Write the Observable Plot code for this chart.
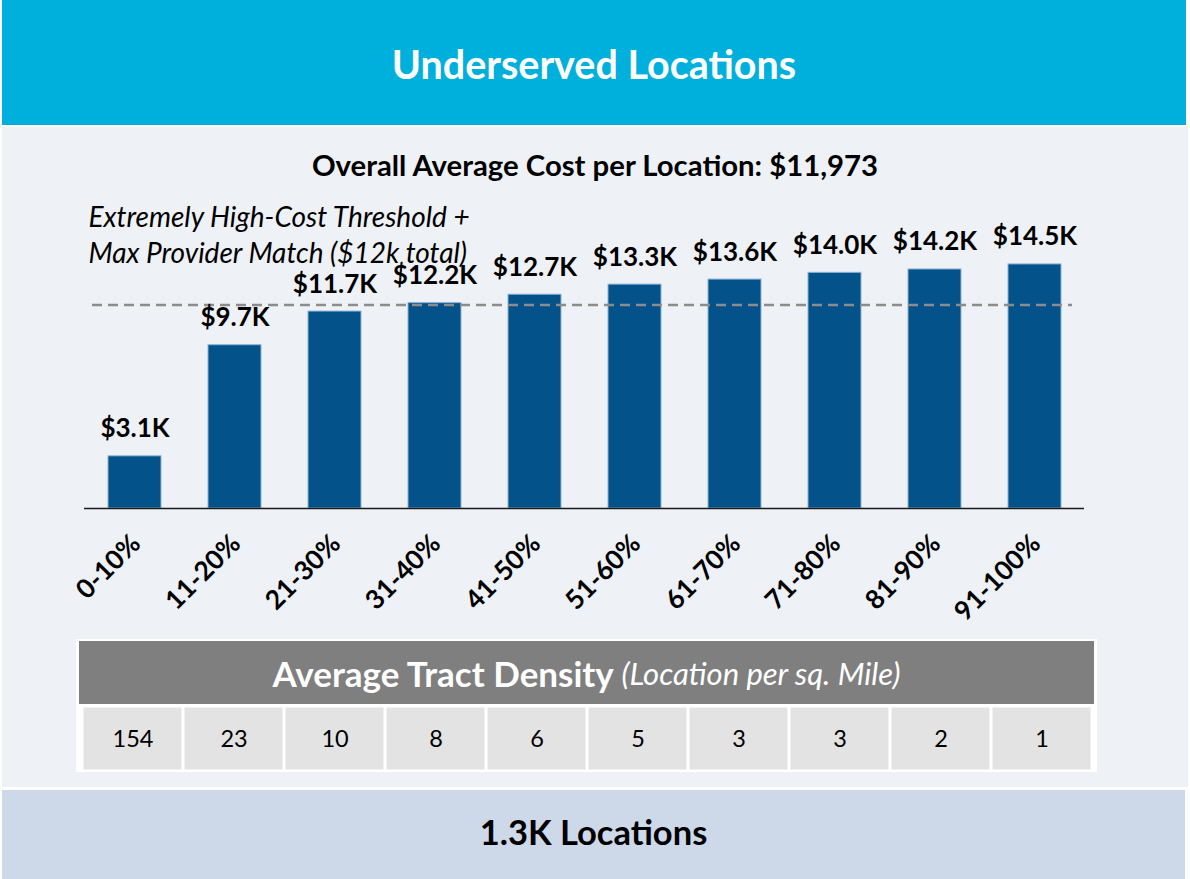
<!DOCTYPE html>
<html>
<head>
<meta charset="utf-8">
<script src="https://cdn.jsdelivr.net/npm/d3@7"></script>
<script src="https://cdn.jsdelivr.net/npm/@observablehq/plot@0.6"></script>
<style>
  body { margin: 0; background: #ffffff; font-family: Lato, "Open Sans", sans-serif; }
  #root { position: relative; width: 1190px; height: 879px; overflow: hidden; background: #ffffff; }
  .abs { position: absolute; }
  .center { display: flex; align-items: center; justify-content: center; white-space: nowrap; }
</style>
</head>
<body>
<div id="root">
  <div class="abs center" id="title" style="left:2px;top:0;width:1184px;height:125px;background:#00B0DC;color:#fff;font-weight:700;font-size:39.5px;padding-top:2px;box-sizing:border-box;"></div>
  <div class="abs" style="left:2px;top:127px;width:1186px;height:660px;background:#EEF1F6;"></div>
  <div class="abs center" id="subtitle" style="left:0;top:146px;width:1190px;height:36px;color:#000;font-weight:700;font-size:29.3px;"></div>
  <div class="abs" id="chart" style="left:0;top:190px;"></div>
  <div class="abs" style="left:76px;top:639px;width:1021px;height:133px;background:#ffffff;"></div>
  <div class="abs center" id="tableHead" style="left:79px;top:641px;width:1015px;height:63px;background:#7F7F7F;color:#fff;font-size:35px;font-weight:700;"></div>
  <div class="abs" id="table" style="left:0;top:705.5px;"></div>
  <div class="abs center" id="footer" style="left:2px;top:790px;width:1183px;height:89px;background:#CDD9E8;color:#000;font-weight:700;font-size:34.5px;padding-bottom:6px;box-sizing:border-box;"></div>
</div>
<script>
// ---- data ----
const titleText = "Underserved Locations";
const overallAverageCost = 11973;
const deciles = ["0-10%", "11-20%", "21-30%", "31-40%", "41-50%", "51-60%", "61-70%", "71-80%", "81-90%", "91-100%"];
const avgCostK = [3.1, 9.7, 11.7, 12.2, 12.7, 13.3, 13.6, 14.0, 14.2, 14.5];
const thresholdK = 12;
const thresholdNote = "Extremely High-Cost Threshold +\nMax Provider Match ($12k total)";
const tractDensity = [154, 23, 10, 8, 6, 5, 3, 3, 2, 1];
const densityTitle = "Average Tract Density";
const densityUnit = "(Location per sq. Mile)";
const totalLocations = "1.3K Locations";

// ---- text blocks ----
document.getElementById("title").textContent = titleText;
document.getElementById("subtitle").textContent =
  "Overall Average Cost per Location: $" + d3.format(",")(overallAverageCost);
document.getElementById("tableHead").innerHTML =
  densityTitle + '&nbsp;<span style="font-weight:400;font-style:italic;font-size:31px;">' + densityUnit + "</span>";
document.getElementById("footer").textContent = totalLocations;

const bars = deciles.map((d, i) => ({decile: d, cost: avgCostK[i]}));
const density = deciles.map((d, i) => ({decile: d, value: tractDensity[i]}));

// ---- main bar chart ----
const chart = Plot.plot({
  width: 1190,
  height: 440,
  marginLeft: 84,
  marginRight: 106,
  marginTop: 15,
  marginBottom: 122,
  style: {background: "transparent", fontFamily: "Lato, 'Open Sans', sans-serif", overflow: "visible"},
  x: {domain: deciles, paddingInner: 0.47, paddingOuter: 0.235, axis: null},
  y: {domain: [0, 18], axis: null},
  marks: [
    Plot.barY(bars, {x: "decile", y: "cost", fill: "#03528A", stroke: "#8DB3D6", strokeWidth: 1}),
    Plot.ruleY([thresholdK], {stroke: "#8C8C8C", strokeWidth: 2.5, strokeDasharray: "10,6", insetLeft: 8, insetRight: 12, dy: -1.5}),
    Plot.ruleY([0], {stroke: "#1a1a1a", strokeWidth: 1.5}),
    Plot.text(bars, {x: "decile", y: "cost", text: d => "$" + d.cost.toFixed(1) + "K",
      lineAnchor: "bottom", dy: -19, fontSize: 26, fontWeight: 700, fill: "#000"}),
    Plot.text(deciles, {x: d => d, frameAnchor: "bottom", rotate: -45, textAnchor: "end",
      lineAnchor: "middle", dx: 1, dy: 31, fontSize: 26.5, fontWeight: 700, fill: "#000"}),
    Plot.text([thresholdNote], {frameAnchor: "top-left", textAnchor: "start", lineAnchor: "top",
      dx: 4, dy: -3.5, fontSize: 28, fontStyle: "italic", lineHeight: 1.27, fill: "#000"})
  ]
});
document.getElementById("chart").appendChild(chart);

// ---- density table row ----
const table = Plot.plot({
  width: 1190,
  height: 65,
  marginLeft: 77.5,
  marginRight: 94.5,
  marginTop: 0,
  marginBottom: 0,
  style: {background: "transparent", fontFamily: "Lato, 'Open Sans', sans-serif"},
  x: {domain: deciles, padding: 0, axis: null},
  marks: [
    Plot.cell(density, {x: "decile", fill: "#E3E3E3", inset: 1.5}),
    Plot.text(density, {x: "decile", text: "value", frameAnchor: "middle", fontSize: 23.5, fill: "#000"})
  ]
});
document.getElementById("table").appendChild(table);
</script>
</body>
</html>
